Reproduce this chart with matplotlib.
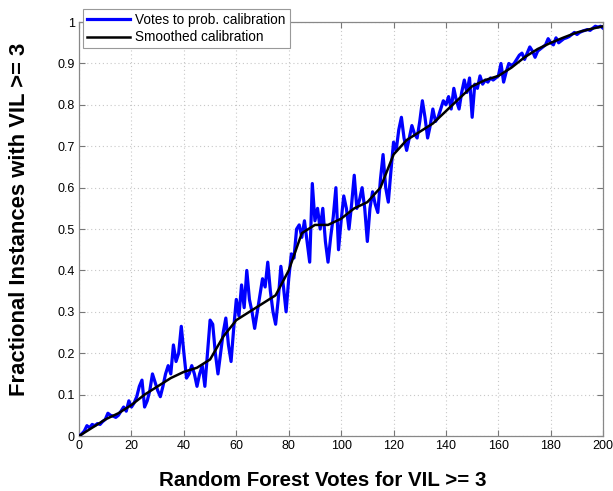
import numpy as np
import matplotlib
matplotlib.use("Agg")
import matplotlib.pyplot as plt

plt.rcParams['font.family'] = ['Liberation Sans', 'DejaVu Sans']

# Raw calibration: fraction of instances with VIL >= 3 for each vote count 0..200
votes = list(range(0, 201))
raw_frac = [
    0.000, 0.005, 0.012, 0.025, 0.020, 0.028, 0.025, 0.030, 0.028, 0.035,
    0.040, 0.055, 0.050, 0.048, 0.045, 0.050, 0.060, 0.070, 0.060, 0.085,
    0.070, 0.080, 0.095, 0.120, 0.135, 0.070, 0.085, 0.110, 0.150, 0.130,
    0.110, 0.095, 0.120, 0.150, 0.170, 0.150, 0.220, 0.180, 0.200, 0.265,
    0.200, 0.140, 0.150, 0.170, 0.150, 0.120, 0.150, 0.170, 0.120, 0.200,
    0.280, 0.270, 0.200, 0.150, 0.200, 0.250, 0.285, 0.220, 0.180, 0.260,
    0.330, 0.290, 0.365, 0.310, 0.400, 0.330, 0.300, 0.260, 0.300, 0.340,
    0.380, 0.360, 0.420, 0.350, 0.300, 0.270, 0.330, 0.410, 0.360, 0.300,
    0.380, 0.440, 0.430, 0.500, 0.510, 0.480, 0.520, 0.470, 0.420, 0.610,
    0.520, 0.550, 0.500, 0.550, 0.470, 0.420, 0.480, 0.530, 0.600, 0.450,
    0.520, 0.580, 0.550, 0.500, 0.560, 0.630, 0.550, 0.570, 0.600, 0.550,
    0.470, 0.550, 0.590, 0.560, 0.540, 0.620, 0.680, 0.600, 0.565, 0.640,
    0.710, 0.690, 0.740, 0.770, 0.720, 0.690, 0.720, 0.750, 0.730, 0.720,
    0.760, 0.810, 0.770, 0.720, 0.750, 0.790, 0.760, 0.770, 0.790, 0.810,
    0.800, 0.820, 0.790, 0.840, 0.810, 0.790, 0.830, 0.860, 0.830, 0.865,
    0.770, 0.850, 0.840, 0.870, 0.850, 0.860, 0.855, 0.865, 0.860, 0.865,
    0.870, 0.900, 0.855, 0.880, 0.900, 0.895, 0.900, 0.910, 0.920, 0.925,
    0.910, 0.925, 0.940, 0.930, 0.915, 0.930, 0.935, 0.940, 0.945, 0.960,
    0.950, 0.945, 0.962, 0.950, 0.955, 0.960, 0.962, 0.965, 0.970, 0.975,
    0.970, 0.975, 0.978, 0.980, 0.982, 0.980, 0.985, 0.990, 0.988, 0.990,
    0.985,
]

# Smoothed calibration curve, sampled every 5 votes
smooth_votes = list(range(0, 201, 5))
smooth_frac = [
    0.000, 0.020, 0.040, 0.055, 0.075, 0.100, 0.120, 0.140, 0.155, 0.165,
    0.185, 0.240, 0.280, 0.300, 0.320, 0.340, 0.400, 0.490, 0.510, 0.510,
    0.525, 0.550, 0.565, 0.600, 0.680, 0.715, 0.735, 0.755, 0.785, 0.815,
    0.845, 0.860, 0.870, 0.890, 0.915, 0.935, 0.950, 0.963, 0.975, 0.983,
    0.990,
]

x_ticks = list(range(0, 201, 20))
y_ticks = [0, 0.1, 0.2, 0.3, 0.4, 0.5, 0.6, 0.7, 0.8, 0.9, 1]
y_tick_labels = ['0', '0.1', '0.2', '0.3', '0.4', '0.5', '0.6', '0.7', '0.8', '0.9', '1']

fig = plt.figure(figsize=(6.13, 4.91), dpi=100)
ax = fig.add_axes([0.129, 0.112, 0.855, 0.843])

ax.plot(votes, raw_frac, color='#0000ff', lw=2.3, label='Votes to prob. calibration', zorder=3)
ax.plot(smooth_votes, smooth_frac, color='black', lw=1.8, label='Smoothed calibration', zorder=4)

ax.set_xlim(0, 200)
ax.set_ylim(0, 1)
ax.set_xticks(x_ticks)
ax.set_yticks(y_ticks)
ax.set_yticklabels(y_tick_labels)
ax.tick_params(direction='in', top=True, right=True, length=4, width=0.8,
               labelsize=9, color='#777777', pad=3)
for s in ax.spines.values():
    s.set_color('#888888')
    s.set_linewidth(0.9)

ax.grid(True, linestyle=(0, (1, 2.5)), color='#c8c8c8', linewidth=0.8)
ax.set_axisbelow(True)

ax.set_xlabel('Random Forest Votes for VIL >= 3', fontsize=14.8, fontweight='bold')
ax.xaxis.set_label_coords(0.464, -0.085)
ax.set_ylabel('Fractional Instances with VIL >= 3', fontsize=15.8, fontweight='bold')
ax.yaxis.set_label_coords(-0.094, 0.524)

leg = ax.legend(loc='upper left', bbox_to_anchor=(0.135, 0.982), bbox_transform=fig.transFigure,
                fontsize=9.8, frameon=True, fancybox=False, framealpha=1, edgecolor='#999999',
                handlelength=3.2, handletextpad=0.35, borderpad=0.3, labelspacing=0.25,
                borderaxespad=0)
leg.get_frame().set_linewidth(0.8)

fig.savefig('out.png', dpi=100)
